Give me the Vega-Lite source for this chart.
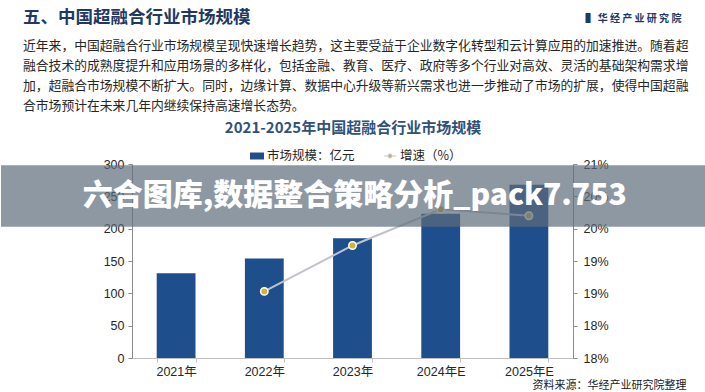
{
  "$schema": "https://vega.github.io/schema/vega-lite/v6.json",
  "background": "white",
  "padding": {"left": 0, "top": 8, "right": 0, "bottom": 3},
  "width": 441,
  "height": 194,
  "title": {
    "text": "五、中国超融合行业市场规模",
    "subtitle": [
      "近年来，中国超融合行业市场规模呈现快速增长趋势，这主要受益于企业数字化转型和云计算应用的加速推进。随着超",
      "融合技术的成熟度提升和应用场景的多样化，包括金融、教育、医疗、政府等多个行业对高效、灵活的基础架构需求增",
      "加，超融合市场规模不断扩大。同时，边缘计算、数据中心升级等新兴需求也进一步推动了市场的扩展，使得中国超融",
      "合市场预计在未来几年内继续保持高速增长态势。"
    ],
    "anchor": "start",
    "frame": "group",
    "dx": -109,
    "offset": -100,
    "font": "Noto Sans CJK SC",
    "fontSize": 17.5,
    "fontWeight": "bold",
    "color": "#1f3864",
    "subtitleFont": "Noto Sans CJK SC",
    "subtitleFontSize": 12.8,
    "subtitleLineHeight": 20,
    "subtitleColor": "#262626",
    "subtitlePadding": 14
  },
  "data": {
    "values": [
      {"年份": "2021年", "市场规模": 131, "增速": null},
      {"年份": "2022年", "市场规模": 154, "增速": 19.03},
      {"年份": "2023年", "市场规模": 185, "增速": 19.74},
      {"年份": "2024年E", "市场规模": 223, "增速": 20.3},
      {"年份": "2025年E", "市场规模": 268, "增速": 20.2}
    ]
  },
  "layer": [
    {
      "mark": {"type": "bar", "color": "#1f4e8c"},
      "encoding": {
        "x": {
          "field": "年份", "type": "ordinal", "sort": null,
          "scale": {"paddingInner": 0.56, "paddingOuter": 0.28},
          "axis": {
            "title": "资料来源：华经产业研究院整理",
            "labelAngle": 0, "tickBand": "extent",
            "domainColor": "#bfbfbf", "tickColor": "#bfbfbf", "tickSize": 4,
            "labelPadding": 3,
            "titleAnchor": "end", "titleAlign": "right", "titleX": 554, "titleY": 30,
            "titleBaseline": "alphabetic", "titleFontSize": 11, "titleFontWeight": "normal",
            "titleColor": "#1a1a1a", "titleFont": "Noto Sans CJK SC"
          }
        },
        "y": {
          "field": "市场规模", "type": "quantitative",
          "scale": {"domain": [0, 300], "nice": false},
          "axis": {
            "orient": "left", "values": [0, 50, 100, 150, 200, 250, 300], "title": null,
            "labelOverlap": false,
            "domainColor": "#8c8c8c", "tickColor": "#8c8c8c", "tickSize": 4, "labelPadding": 4
          }
        },
        "color": {
          "datum": "市场规模：亿元",
          "scale": {"range": ["#1f4e8c"]},
          "legend": {
            "title": null, "orient": "none", "legendX": 118, "legendY": -15,
            "symbolType": "M-1,-0.5H1V0.5H-1Z", "symbolSize": 196, "symbolStrokeWidth": 0,
            "labelOffset": 3
          }
        }
      }
    },
    {
      "encoding": {
        "x": {
          "field": "年份", "type": "ordinal", "sort": null,
          "scale": {"paddingInner": 0.56, "paddingOuter": 0.28},
          "axis": {
            "orient": "top", "labels": false, "ticks": false, "domain": false,
            "title": "2021-2025年中国超融合行业市场规模",
            "titleFont": "Noto Sans CJK SC", "titleFontSize": 15, "titleFontWeight": "bold",
            "titleColor": "#30527a", "titlePadding": 29
          }
        },
        "y": {
          "field": "增速", "type": "quantitative",
          "scale": {"domain": [18, 21], "nice": false, "zero": false},
          "axis": {
            "orient": "right", "values": [18, 18.5, 19, 19.5, 20, 20.5, 21],
            "labelExpr": "floor(datum.value) + '%'", "labelOverlap": false,
            "domainColor": "#8c8c8c", "tickColor": "#8c8c8c", "tickSize": 4, "labelPadding": 6,
            "title": "▌ 华 经 产 业 研 究 院", "titleAngle": 0, "titleX": 12, "titleY": -146,
            "titleAlign": "left", "titleBaseline": "middle", "titleFontSize": 10,
            "titleColor": "#1f3864", "titleFontWeight": "bold", "titleFont": "Noto Sans CJK SC"
          }
        }
      },
      "layer": [
        {
          "mark": {"type": "line", "strokeWidth": 2},
          "encoding": {
            "stroke": {
              "datum": "增速（%）",
              "scale": {"range": ["#c0c4ca"]},
              "legend": {
                "title": null, "orient": "none", "legendX": 251, "legendY": -15,
                "symbolType": "M-1,0H-0.4M0.4,0H1M-0.3,0A0.3,0.3 0 1 1 0.3,0A0.3,0.3 0 1 1 -0.3,0Z",
                "symbolSize": 144, "symbolFillColor": "#d6b22c", "symbolStrokeWidth": 1.2,
                "labelOffset": 3
              }
            }
          }
        },
        {
          "mark": {"type": "point", "filled": true, "fill": "#d6b22c", "stroke": "white", "strokeWidth": 1.5, "size": 55, "opacity": 1},
          "encoding": {}
        }
      ]
    },
    {
      "data": {"values": [{"标语": "六合图库,数据整合策略分析_pack7.753"}]},
      "layer": [
        {
          "mark": {"type": "rect", "color": "#5e6c7a", "opacity": 0.7},
          "encoding": {
            "x": {"datum": -0.2971, "type": "quantitative", "scale": {"domain": [0, 1], "nice": false, "zero": false}, "axis": null},
            "x2": {"datum": 1.3016},
            "y": {"datum": 20.98, "type": "quantitative", "scale": {"domain": [18, 21], "nice": false, "zero": false}, "axis": null},
            "y2": {"datum": 20.03}
          }
        },
        {
          "mark": {"type": "text", "font": "Noto Sans CJK SC", "fontSize": 30, "fontWeight": 900, "color": "white"},
          "encoding": {
            "x": {"datum": 0.505, "type": "quantitative"},
            "y": {"datum": 20.5, "type": "quantitative"},
            "text": {"field": "标语"}
          }
        }
      ]
    }
  ],
  "resolve": {"scale": {"x": "independent", "y": "independent", "color": "independent", "stroke": "independent"}},
  "config": {
    "view": {"stroke": null},
    "font": "Noto Sans CJK SC",
    "axis": {"labelFont": "Liberation Sans, Noto Sans CJK SC", "labelFontSize": 12.5, "labelColor": "#262626", "grid": false},
    "legend": {"labelFont": "Noto Sans CJK SC", "labelFontSize": 12.5, "labelColor": "#262626", "padding": 0}
  }
}
